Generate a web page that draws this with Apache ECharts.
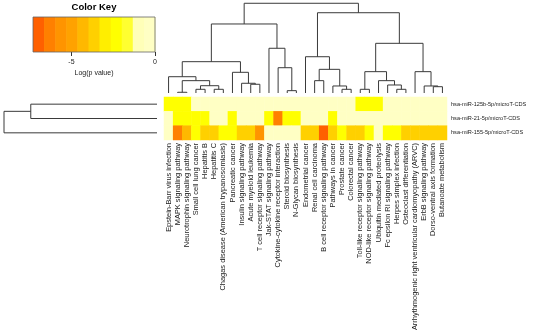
<!DOCTYPE html>
<html>
<head>
<meta charset="utf-8">
<script src="https://cdn.jsdelivr.net/npm/echarts@6/dist/echarts.min.js"></script>
<style>html,body{margin:0;padding:0;background:#fff}#c{width:550px;height:336px}</style>
</head>
<body>
<div id="c"></div>
<script>
// ---- data ----
const columns = [
  'Epstein-Barr virus infection','MAPK signaling pathway','Neurotrophin signaling pathway','Small cell lung cancer',
  'Hepatitis B','Hepatitis C','Chagas disease (American trypanosomiasis)','Pancreatic cancer',
  'Insulin signaling pathway','Acute myeloid leukemia','T cell receptor signaling pathway','Jak-STAT signaling pathway',
  'Cytokine-cytokine receptor interaction','Steroid biosynthesis','N-Glycan biosynthesis','Endometrial cancer',
  'Renal cell carcinoma','B cell receptor signaling pathway','Pathways in cancer','Prostate cancer',
  'Colorectal cancer','Toll-like receptor signaling pathway','NOD-like receptor signaling pathway','Ubiquitin mediated proteolysis',
  'Fc epsilon RI signaling pathway','Herpes simplex infection','Osteoclast differentiation',
  'Arrhythmogenic right ventricular cardiomyopathy (ARVC)','ErbB signaling pathway','Dorso-ventral axis formation','Butanoate metabolism'
];
const rows = ['hsa-miR-125b-5p/microT-CDS','hsa-miR-21-5p/microT-CDS','hsa-miR-155-5p/microT-CDS'];

const row125b = [-2.3,-2.2,-2.4,-0.3,-0.2,-0.3,-0.4,-0.2,-0.3,-0.3,-0.2,-0.4,-0.3,-0.2,-0.3,-0.3,-0.2,-0.4,-0.3,-0.2,-0.3,-2.2,-2.4,-2.3,-0.3,-0.2,-0.3,-0.4,-0.2,-0.3,-0.3];
const row21   = [-0.3,-2.3,-2.2,-2.4,-2.3,-0.3,-0.2,-2.3,-0.4,-0.3,-0.2,-2.3,-6.3,-2.2,-2.4,-0.3,-0.2,-0.3,-2.3,-0.3,-0.2,-0.4,-0.3,-0.2,-0.3,-0.3,-0.2,-0.4,-0.3,-0.2,-0.3];
const row155  = [-0.3,-6.3,-4.2,-2.3,-3.6,-3.7,-2.3,-2.2,-3.6,-3.7,-5.5,-0.3,-0.2,-0.4,-0.3,-3.6,-3.7,-7.0,-3.6,-2.3,-3.7,-3.6,-2.3,-0.3,-2.3,-2.2,-3.6,-3.7,-3.6,-3.7,-3.6];
const rowValues = [row125b, row21, row155];

const keyBreaks = [-7.3,-6.64,-5.97,-5.31,-4.65,-3.98,-3.32,-2.65,-1.99,-1.33,-0.66,0];
const keyColors = ['#FF6000','#FF8000','#FF9400','#FFA200','#FFB800','#FFD000','#FFEE00','#FFFF00','#FFFF30','#FFFFB8','#FFFFC4'];
const keyTicks = [-5, 0];

// hclust-style merges: [left, right, height]; negative = leaf index, positive = earlier merge
const colMerges = [
  [-2,-3,0.08],[-4,-5,0.41],[-6,-7,0.41],[2,3,0.81],[1,4,1.37],[-1,5,1.81],
  [-10,-11,0.97],[-9,7,1.08],[-8,8,2.3],[6,9,3.48],[-14,-15,0.26],[-13,11,2.81],
  [-12,12,4.97],[10,13,7.67],[-17,-18,1.37],[-20,-21,0.41],[-19,16,0.78],[15,17,2.63],
  [-16,18,4.03],[-22,-23,0.41],[-26,-27,0.41],[-25,21,0.89],[-24,22,1.37],[20,23,2.37],
  [-30,-31,0.7],[-29,25,0.78],[-28,26,2.37],[24,27,5.52],[19,28,8.92],[14,29,9.97]
];
const rowMerges = [[-1,-2,8.25],[1,-3,10]];

// ---- build ----
function buildDendro(merges) {
  const nodes = [], segs = [];
  merges.forEach(m => {
    const ch = [m[0], m[1]].map(c => c < 0 ? {p: -c, h: 0} : nodes[c - 1]);
    nodes.push({p: (ch[0].p + ch[1].p) / 2, h: m[2]});
    segs.push([ch[0].p, ch[0].h, ch[1].p, ch[1].h, m[2]]);
  });
  return segs;
}
const colSegs = buildDendro(colMerges);
const rowSegs = buildDendro(rowMerges);

const heatData = [];
rowValues.forEach((vals, r) => vals.forEach((v, c) => heatData.push([c, r, v])));

const pieces = keyColors.map((col, i) => ({gt: keyBreaks[i], lte: keyBreaks[i + 1], color: col}));
pieces[0].gte = keyBreaks[0] - 10; delete pieces[0].gt;
const keyData = keyColors.map((col, i) => [keyBreaks[i], keyBreaks[i + 1], i]);

const FONT = 'Liberation Sans';
const lineStyle = {stroke: '#3a3a3a', lineWidth: 1, fill: null};

const chart = echarts.init(document.getElementById('c'), null, {renderer: 'canvas'});
chart.setOption({
  animation: false,
  backgroundColor: '#fff',
  textStyle: {fontFamily: FONT},
  grid: [
    {left: 164, top: 97, width: 283, height: 43},
    {left: 164, top: 3, width: 283, height: 90},
    {left: 4, top: 97, width: 153, height: 43},
    {left: 33, top: 17, width: 122, height: 35}
  ],
  xAxis: [
    {type: 'category', gridIndex: 0, data: columns, position: 'bottom',
     axisLine: {show: false}, axisTick: {show: false}, splitLine: {show: false},
     axisLabel: {rotate: 90, interval: 0, fontSize: 7.45, margin: 3, color: '#1a1a1a', fontFamily: FONT}},
    {type: 'value', gridIndex: 1, min: 0.5, max: 31.5, show: false},
    {type: 'value', gridIndex: 2, min: 0, max: 10, inverse: true, show: false},
    {type: 'value', gridIndex: 3, min: keyBreaks[0], max: keyBreaks[keyBreaks.length - 1], position: 'bottom',
     axisLine: {show: false}, splitLine: {show: false},
     axisTick: {show: true, customValues: keyTicks, length: 4, lineStyle: {color: '#333'}},
     axisLabel: {customValues: keyTicks, fontSize: 7, margin: 7, color: '#1a1a1a', fontFamily: FONT},
     name: 'Log(p value)', nameLocation: 'middle', nameGap: 18,
     nameTextStyle: {fontSize: 7, color: '#1a1a1a', fontFamily: FONT}},
    {type: 'value', gridIndex: 3, min: keyBreaks[0], max: keyBreaks[keyBreaks.length - 1], position: 'top',
     axisLine: {show: false}, axisTick: {show: false}, axisLabel: {show: false}, splitLine: {show: false},
     name: 'Color Key', nameLocation: 'middle', nameGap: 5,
     nameTextStyle: {fontSize: 9.5, fontWeight: 'bold', color: '#000', fontFamily: FONT}}
  ],
  yAxis: [
    {type: 'category', gridIndex: 0, data: rows, inverse: true, position: 'right',
     axisLine: {show: false}, axisTick: {show: false}, splitLine: {show: false},
     axisLabel: {fontSize: 5.6, margin: 4, color: '#1a1a1a', fontFamily: FONT}},
    {type: 'value', gridIndex: 1, min: 0, max: 10, show: false},
    {type: 'value', gridIndex: 2, min: 0.5, max: 3.5, inverse: true, show: false},
    {type: 'value', gridIndex: 3, min: 0, max: 1, show: false}
  ],
  visualMap: {type: 'piecewise', show: false, seriesIndex: 0, dimension: 2, pieces: pieces},
  series: [
    {type: 'heatmap', xAxisIndex: 0, yAxisIndex: 0, data: heatData,
     itemStyle: {borderWidth: 0}, emphasis: {disabled: true}},
    {type: 'custom', xAxisIndex: 1, yAxisIndex: 1, data: colSegs, silent: true,
     encode: {x: [0, 2], y: [1, 3, 4]},
     renderItem: (params, api) => {
       const pL = api.value(0), hL = api.value(1), pR = api.value(2), hR = api.value(3), h = api.value(4);
       return {type: 'polyline', shape: {points: [api.coord([pL, hL]), api.coord([pL, h]), api.coord([pR, h]), api.coord([pR, hR])]}, style: lineStyle};
     }},
    {type: 'custom', xAxisIndex: 2, yAxisIndex: 2, data: rowSegs, silent: true,
     encode: {x: [1, 3, 4], y: [0, 2]},
     renderItem: (params, api) => {
       const pL = api.value(0), hL = api.value(1), pR = api.value(2), hR = api.value(3), h = api.value(4);
       return {type: 'polyline', shape: {points: [api.coord([hL, pL]), api.coord([h, pL]), api.coord([h, pR]), api.coord([hR, pR])]}, style: lineStyle};
     }},
    {type: 'custom', xAxisIndex: 3, yAxisIndex: 3, data: keyData, silent: true,
     encode: {x: [0, 1]},
     renderItem: (params, api) => {
       const a = api.coord([api.value(0), 1]), b = api.coord([api.value(1), 0]);
       return {type: 'rect', shape: {x: a[0], y: a[1], width: b[0] - a[0] + 0.6, height: b[1] - a[1]},
               style: {fill: keyColors[api.value(2)]}};
     }},
    {type: 'custom', xAxisIndex: 3, yAxisIndex: 3, data: [[keyBreaks[0], keyBreaks[keyBreaks.length - 1]]], silent: true,
     encode: {x: [0, 1]},
     renderItem: (params, api) => {
       const a = api.coord([api.value(0), 1]), b = api.coord([api.value(1), 0]);
       return {type: 'rect', shape: {x: a[0], y: a[1], width: b[0] - a[0], height: b[1] - a[1]},
               style: {fill: null, stroke: '#666', lineWidth: 0.8}};
     }}
  ]
});
</script>
</body>
</html>
